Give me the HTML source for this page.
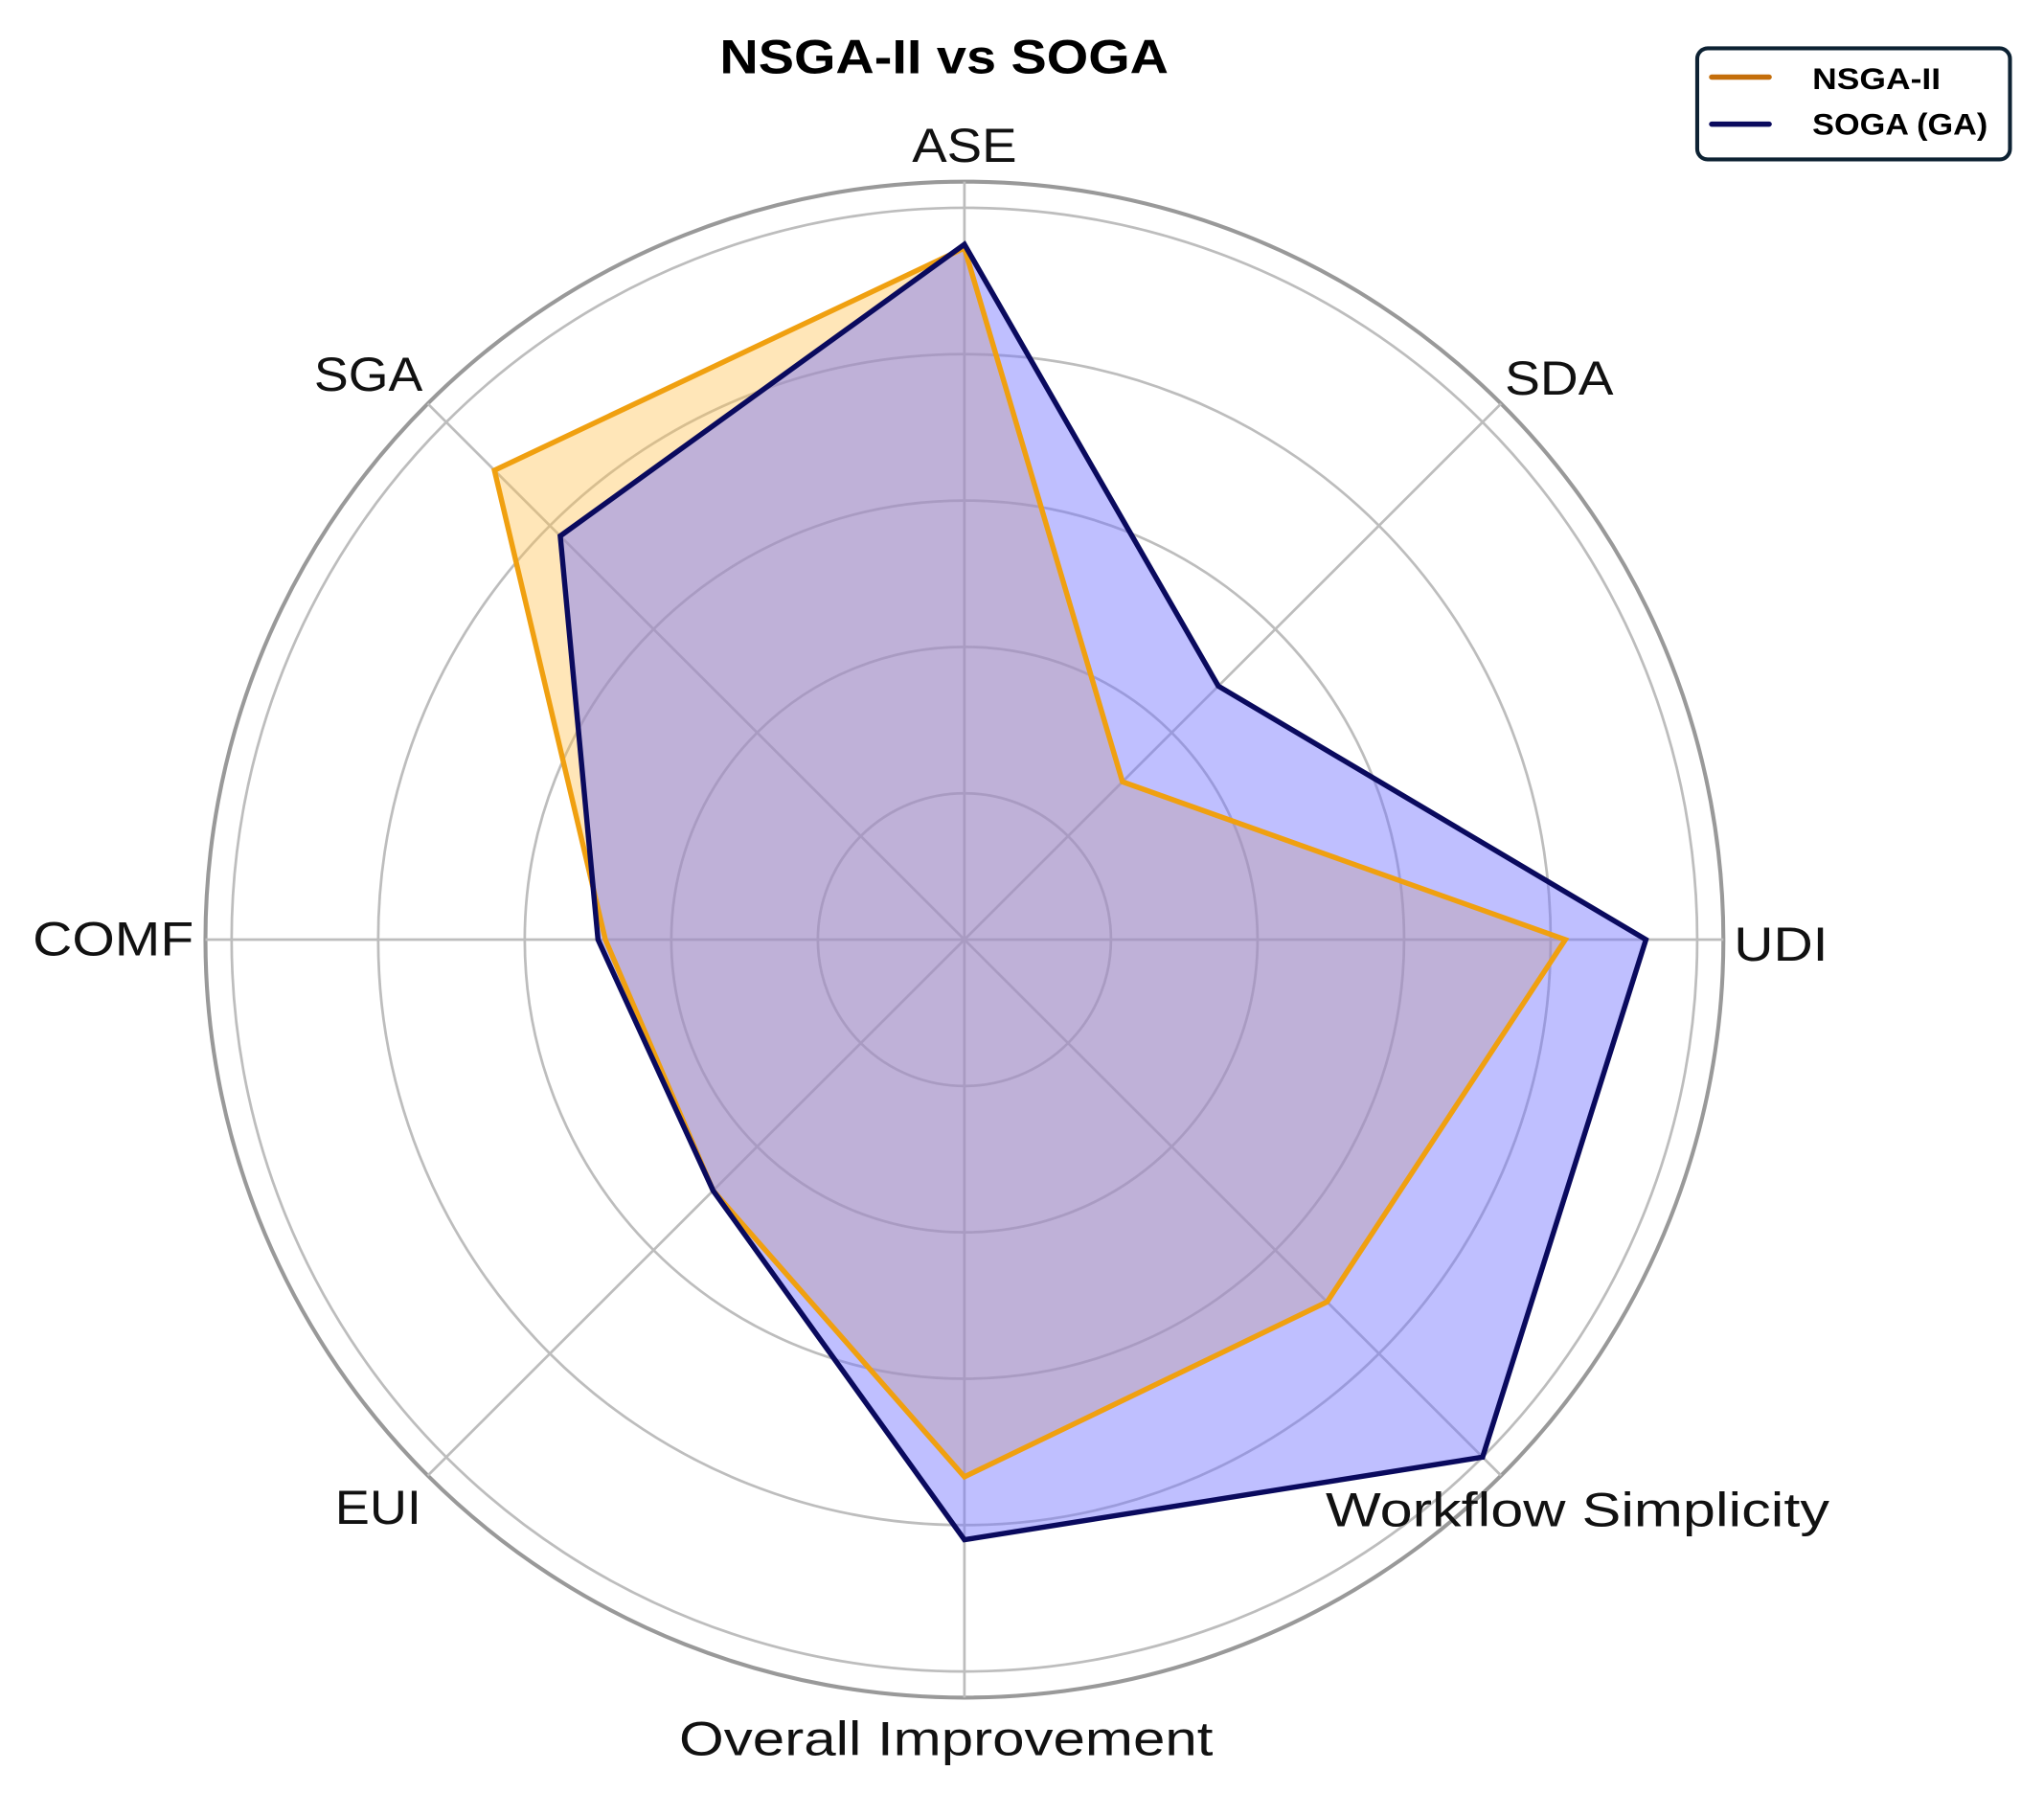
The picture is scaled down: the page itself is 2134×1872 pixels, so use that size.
<!DOCTYPE html>
<html><head><meta charset="utf-8"><style>
html,body{margin:0;padding:0;background:#fff}
svg{display:block}
text{font-family:"Liberation Sans",sans-serif}
</style></head><body>
<svg id="chart" width="2134" height="1872" viewBox="0 0 1562 1372" preserveAspectRatio="none" xmlns="http://www.w3.org/2000/svg">
<g id="grid"></g>
<g id="series"></g>
<g id="labels"></g>
<text x="550" y="56" textLength="343" lengthAdjust="spacingAndGlyphs" font-size="37" font-weight="bold">NSGA-II vs SOGA</text>
<g>
<rect x="1297" y="37" width="239" height="85" rx="8" fill="#fff" stroke="#0d2233" stroke-width="3"/>
<line x1="1308" y1="59" x2="1352" y2="59" stroke="#c46e0a" stroke-width="4" stroke-linecap="round"/>
<text x="1385" y="68" textLength="98" lengthAdjust="spacingAndGlyphs" font-size="23" font-weight="bold">NSGA-II</text>
<line x1="1308" y1="95" x2="1352" y2="95" stroke="#0a0a5e" stroke-width="4" stroke-linecap="round"/>
<text x="1385" y="103" textLength="134" lengthAdjust="spacingAndGlyphs" font-size="23" font-weight="bold">SOGA (GA)</text>
</g>
</svg>
<script>
const categories = ["ASE","SDA","UDI","Workflow Simplicity","Overall Improvement","EUI","COMF","SGA"];
const nsgaValues = [0.945,0.305,0.82,0.70,0.734,0.485,0.49,0.907];
const sogaValues = [0.95,0.49,0.93,1.0,0.82,0.485,0.50,0.78];
const ringTicks = [0.2,0.4,0.6,0.8,1.0];
const NS="http://www.w3.org/2000/svg";
const cx=737, cy=719, R=560, frameR=580;
function ang(i){return -Math.PI/2 + i*2*Math.PI/categories.length;}
function pt(i,v){const a=ang(i);return [cx+Math.cos(a)*v*R, cy+Math.sin(a)*v*R];}
function mk(tag,attrs,parent){const e=document.createElementNS(NS,tag);for(const k in attrs)e.setAttribute(k,attrs[k]);parent.appendChild(e);return e;}
const grid=document.getElementById('grid');
ringTicks.forEach((t,k)=>{
  const c=mk('circle',{cx:cx,cy:cy,r:t*R,fill:'none',stroke:'#bdbdbd','stroke-width':2},grid);
  
  
});
const fr=mk('circle',{cx:cx,cy:cy,r:frameR,fill:'none',stroke:'#999','stroke-width':3},grid);


categories.forEach((c,i)=>{
  const a=ang(i);
  const l=mk('line',{x1:cx,y1:cy,x2:cx+Math.cos(a)*frameR,y2:cy+Math.sin(a)*frameR,stroke:'#bdbdbd','stroke-width':2},grid);
  
  
});
const ser=document.getElementById('series');
function poly(vals,fill,op,name){
  const p=vals.map((v,i)=>pt(i,v).join(',')).join(' ');
  const f=mk('polygon',{points:p,fill:fill,'fill-opacity':op,stroke:'none'},ser);
  
  
  return p;
}
const pn=poly(nsgaValues,'#ffc04d',0.4,'nsga');
const ps=poly(sogaValues,'#7070ff',0.45,'soga');
const ln=mk('polygon',{points:pn,fill:'none',stroke:'#f0a010','stroke-width':4},ser);


const ls=mk('polygon',{points:ps,fill:'none',stroke:'#0a0a5e','stroke-width':4},ser);


const labPos=[[697,124,80],[1150,302,83],[1325,735,72],[1013,1168,385],[519,1343,408],[256,1166,66],[25,731,123],[240,299,83]];
const lab=document.getElementById('labels');
categories.forEach((c,i)=>{
  const p=labPos[i];
  const t=mk('text',{x:p[0],y:p[1],textLength:p[2],lengthAdjust:'spacingAndGlyphs','font-size':37,fill:'#111'},lab);
  t.textContent=c;
  
  
});
</script>
</body></html>
